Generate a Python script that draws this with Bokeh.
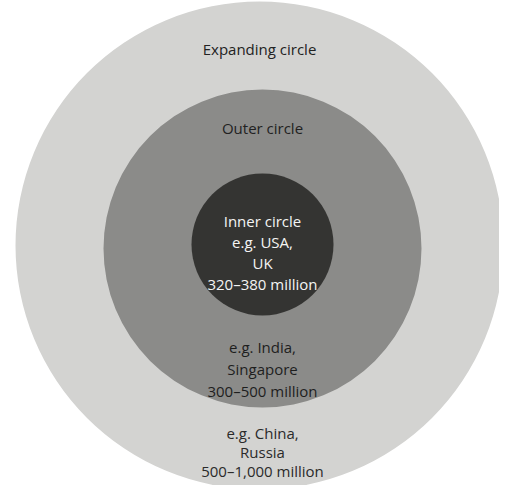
from bokeh.plotting import figure
from bokeh.models import Range1d, ColumnDataSource
from bokeh.core.properties import value
from bokeh.embed import file_html
from bokeh.resources import INLINE

# Circles (outer to inner): centre and radius in image pixels
circle_names = ["Expanding circle", "Outer circle", "Inner circle"]
circle_x = [259, 262, 262]
circle_y = [245, 248, 244]
circle_r = [244, 159, 71]
circle_colors = ["#d3d3d1", "#8b8b89", "#343432"]

# Labels
label_text = [
    "Expanding circle",
    "Outer circle",
    "Inner circle", "e.g. USA,", "UK", "320–380 million",
    "e.g. India,", "Singapore", "300–500 million",
    "e.g. China,", "Russia", "500–1,000 million",
]
label_x = [259, 262, 262, 262, 262, 262, 262, 262, 262, 262, 262, 262]
label_y = [48, 127, 220, 241, 262, 283, 346, 368, 390, 432, 451, 470]
label_colors = ["#222222", "#222222",
                "#f4f4f4", "#f4f4f4", "#f4f4f4", "#f4f4f4",
                "#1e1e1e", "#1e1e1e", "#1e1e1e",
                "#2a2a2a", "#2a2a2a", "#2a2a2a"]

W, H = 499, 485
p = figure(width=W, height=H, output_backend="svg", toolbar_location=None,
           x_range=Range1d(0, W), y_range=Range1d(H, 0),
           min_border=0)
p.axis.visible = False
p.grid.visible = False
p.outline_line_color = None
p.background_fill_color = "white"
p.border_fill_color = "white"

circ = ColumnDataSource(dict(x=circle_x, y=circle_y, r=circle_r, c=circle_colors))
p.circle(x="x", y="y", radius="r", fill_color="c", line_color=None, source=circ)

lab = ColumnDataSource(dict(x=label_x, y=label_y, t=label_text, c=label_colors))
p.text(x="x", y="y", text="t", text_color="c", source=lab,
       text_align="center", text_baseline="middle",
       text_font=value("Open Sans"), text_font_size="15px")

open("out.html", "w").write(file_html(p, INLINE))
